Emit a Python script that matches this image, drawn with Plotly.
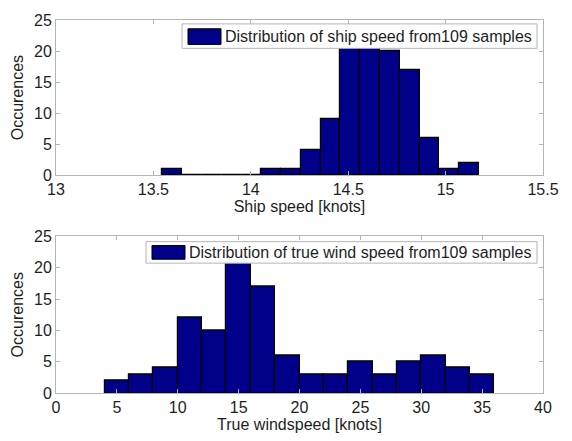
import numpy as np
import plotly.graph_objects as go

# ---------------- data ----------------
ship_bin_start = 13.546
ship_bin_width = 0.1016
ship_counts = [1, 0, 0, 0, 0, 1, 1, 4, 9, 24, 23, 20, 17, 6, 1, 2]

wind_bin_start = 4.0
wind_bin_width = 2.0
wind_counts = [2, 3, 4, 12, 10, 23, 17, 6, 3, 3, 5, 3, 5, 6, 4, 3]

ship_legend = "Distribution of ship speed from109 samples"
wind_legend = "Distribution of true wind speed from109 samples"
ship_xlabel = "Ship speed [knots]"
wind_xlabel = "True windspeed [knots]"
ylabel = "Occurences"

ship_xticks = [13, 13.5, 14, 14.5, 15, 15.5]
wind_xticks = [0, 5, 10, 15, 20, 25, 30, 35, 40]
yticks = [0, 5, 10, 15, 20, 25]

# ---------------- styling ----------------
W, H = 572, 441
ML, MR, MT, MB = 56, 29, 14, 45
PW = W - ML - MR
PH = H - MT - MB
BAR = "#000088"
AX = "#b4b4b4"
TXT = "#1e1e1e"
FONT = "Liberation Sans, Arial, Helvetica, sans-serif"
FS = 16


def xp(px):
    return (px - ML) / PW


def yp(py):
    return (H - MB - py) / PH


def centers(start, width, n):
    return [start + width * (i + 0.5) for i in range(n)]


def zero_line(start, width, counts):
    xs, ys = [], []
    for i, c in enumerate(counts):
        if c == 0:
            xs += [start + width * i, start + width * (i + 1), None]
            ys += [0, 0, None]
    return xs, ys


fig = go.Figure()

fig.add_trace(go.Bar(
    x=centers(ship_bin_start, ship_bin_width, len(ship_counts)),
    y=ship_counts, width=ship_bin_width,
    marker=dict(color=BAR, line=dict(color="black", width=1.2)),
    xaxis="x", yaxis="y", showlegend=False, name=ship_legend))
zx, zy = zero_line(ship_bin_start, ship_bin_width, ship_counts)
fig.add_trace(go.Scatter(x=zx, y=zy, mode="lines", line=dict(color="black", width=1.5),
                         xaxis="x", yaxis="y", showlegend=False, hoverinfo="skip"))

fig.add_trace(go.Bar(
    x=centers(wind_bin_start, wind_bin_width, len(wind_counts)),
    y=wind_counts, width=wind_bin_width,
    marker=dict(color=BAR, line=dict(color="black", width=1.2)),
    xaxis="x2", yaxis="y2", showlegend=False, name=wind_legend))

top_dom = [yp(173), yp(14)]
bot_dom = [yp(396), yp(235.7)]

axis_common = dict(showline=True, linecolor=AX, linewidth=1, mirror="ticks",
                   ticks="inside", ticklen=4, tickcolor=AX, showgrid=False,
                   zeroline=False, tickfont=dict(family=FONT, size=FS, color=TXT))

fig.update_layout(
    width=W, height=H,
    margin=dict(l=ML, r=MR, t=MT, b=MB),
    paper_bgcolor="white", plot_bgcolor="white",
    bargap=0,
    font=dict(family=FONT, size=FS, color=TXT),
    xaxis=dict(domain=[0, 1], range=[13, 15.5], tickvals=ship_xticks,
               ticktext=[f"{v:g}" for v in ship_xticks], anchor="y",
               title=dict(text=ship_xlabel, standoff=1, font=dict(family=FONT, size=FS, color=TXT)),
               **axis_common),
    yaxis=dict(domain=top_dom, range=[0, 25], tickvals=yticks, anchor="x",
               title=dict(text=ylabel, standoff=6, font=dict(family=FONT, size=FS, color=TXT)),
               **axis_common),
    xaxis2=dict(domain=[0, 1], range=[0, 40], tickvals=wind_xticks, anchor="y2",
                title=dict(text=wind_xlabel, standoff=2, font=dict(family=FONT, size=FS, color=TXT)),
                **axis_common),
    yaxis2=dict(domain=bot_dom, range=[0, 25], tickvals=yticks, anchor="x2",
                title=dict(text=ylabel, standoff=6, font=dict(family=FONT, size=FS, color=TXT)),
                **axis_common),
)

# legends drawn as boxes
legends = [
    dict(box=(182, 18, 537, 43), sw=(188, 23, 221, 39), tx=223, ty=31, text=ship_legend),
    dict(box=(146, 241, 537, 263), sw=(152, 245, 185, 259), tx=187, ty=252, text=wind_legend),
]
for lg in legends:
    x0, y0, x1, y1 = lg["box"]
    fig.add_shape(type="rect", xref="paper", yref="paper",
                  x0=xp(x0), x1=xp(x1), y0=yp(y1), y1=yp(y0),
                  fillcolor="white", line=dict(color=AX, width=1), layer="above")
    sx0, sy0, sx1, sy1 = lg["sw"]
    fig.add_shape(type="rect", xref="paper", yref="paper",
                  x0=xp(sx0), x1=xp(sx1), y0=yp(sy1), y1=yp(sy0),
                  fillcolor=BAR, line=dict(color="black", width=1), layer="above")
    fig.add_annotation(xref="paper", yref="paper", x=xp(lg["tx"]), y=yp(lg["ty"]),
                       xanchor="left", yanchor="middle", showarrow=False,
                       text=lg["text"], font=dict(family=FONT, size=FS, color=TXT))

fig.write_html("out.html")
